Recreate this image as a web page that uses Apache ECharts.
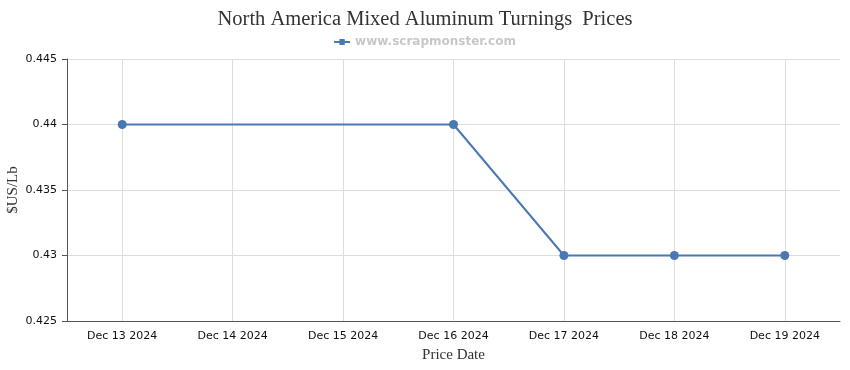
<!DOCTYPE html>
<html><head><meta charset="utf-8">
<script src="https://cdn.jsdelivr.net/npm/echarts@6/dist/echarts.min.js"></script>
<style>html,body{margin:0;padding:0;background:#fff}#c{width:850px;height:370px}</style>
</head><body><div id="c"></div>
<script>
var categories = ['Dec 13 2024','Dec 14 2024','Dec 15 2024','Dec 16 2024','Dec 17 2024','Dec 18 2024','Dec 19 2024'];
var prices = [0.44, null, null, 0.44, 0.43, 0.43, 0.43];
var seriesName = 'www.scrapmonster.com';
var titleText = 'North America Mixed Aluminum Turnings  Prices';

var chart = echarts.init(document.getElementById('c'));
chart.setOption({
  animation: false,
  title: {text: titleText, left: 'center', top: 4,
    textStyle: {fontFamily: 'Liberation Serif', fontSize: 20.5, fontWeight: 'normal', color: '#333'}},
  legend: {data: [{name: seriesName, icon: 'path://M0,4h18v2H0z M6,1.5h6v7H6z'}], top: 31, left: 'center', itemWidth: 16, itemHeight: 8, itemGap: 5,
    textStyle: {fontFamily: 'DejaVu Sans', fontSize: 12, fontWeight: 'bold', color: '#c8c8c8'}},
  grid: {left: 67, right: 10, top: 59, bottom: 49, containLabel: false, outerBoundsMode: 'none'},
  xAxis: {type: 'category', data: categories, boundaryGap: true,
    name: 'Price Date', nameLocation: 'middle', nameGap: 27, nameMoveOverlap: false,
    nameTextStyle: {fontFamily: 'Liberation Serif', fontSize: 15, color: '#333'},
    axisLine: {lineStyle: {color: '#555'}},
    axisTick: {alignWithLabel: true, length: 5, lineStyle: {color: '#555'}},
    axisLabel: {fontFamily: 'DejaVu Sans', fontSize: 11, color: '#111', margin: 10},
    splitLine: {show: true, alignWithLabel: true, lineStyle: {color: '#ddd'}}},
  yAxis: {type: 'value', min: 0.425, max: 0.445, interval: 0.005,
    name: '$US/Lb', nameLocation: 'middle', nameGap: 46, nameRotate: 90, nameMoveOverlap: false,
    nameTextStyle: {fontFamily: 'Liberation Serif', fontSize: 15, color: '#333'},
    axisLine: {show: true, lineStyle: {color: '#555'}},
    axisTick: {show: true, length: 5, lineStyle: {color: '#555'}},
    axisLabel: {fontFamily: 'DejaVu Sans', fontSize: 11, color: '#111', margin: 10},
    splitLine: {show: true, lineStyle: {color: '#ddd'}}},
  series: [{name: seriesName, type: 'line', data: prices, connectNulls: true,
    symbol: 'circle', symbolSize: 9, showAllSymbol: true,
    lineStyle: {color: '#4a78b4', width: 2}, itemStyle: {color: '#4a78b4'}}]
});
</script></body></html>
